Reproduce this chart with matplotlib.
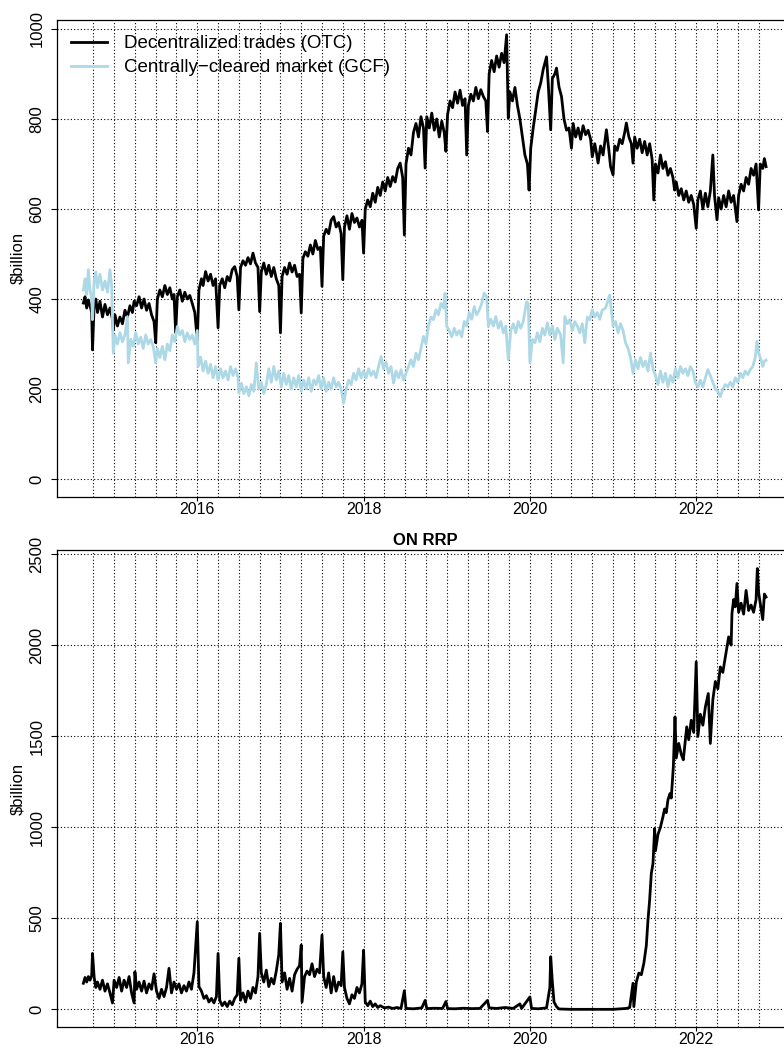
import numpy as np
import matplotlib
matplotlib.use("Agg")
import matplotlib.pyplot as plt

plt.rcParams['font.family'] = ['Liberation Sans', 'DejaVu Sans']

# =========================
# Data (decimal year, $billion)
# =========================
otc_t = [2014.63, 2014.65, 2014.67, 2014.69, 2014.71, 2014.73, 2014.74, 2014.76, 2014.78, 2014.80,
         2014.83, 2014.86, 2014.89, 2014.92, 2014.95, 2014.98, 2014.99, 2015.01, 2015.04, 2015.07,
         2015.10, 2015.13, 2015.16, 2015.19, 2015.22, 2015.24, 2015.27, 2015.30, 2015.33, 2015.36,
         2015.39, 2015.42, 2015.45, 2015.48, 2015.50, 2015.52, 2015.55, 2015.58, 2015.61, 2015.64,
         2015.67, 2015.70, 2015.72, 2015.74, 2015.76, 2015.79, 2015.82, 2015.85, 2015.88, 2015.91,
         2015.94, 2015.97, 2016.00, 2016.02, 2016.05, 2016.07, 2016.10, 2016.13, 2016.16, 2016.19,
         2016.22, 2016.25, 2016.27, 2016.30, 2016.33, 2016.36, 2016.39, 2016.42, 2016.45, 2016.48,
         2016.50, 2016.52, 2016.55, 2016.58, 2016.61, 2016.64, 2016.67, 2016.70, 2016.73, 2016.75,
         2016.77, 2016.80, 2016.83, 2016.86, 2016.89, 2016.92, 2016.95, 2016.98, 2017.00, 2017.02,
         2017.05, 2017.08, 2017.11, 2017.14, 2017.17, 2017.20, 2017.23, 2017.25, 2017.27, 2017.30,
         2017.33, 2017.36, 2017.39, 2017.42, 2017.45, 2017.48, 2017.50, 2017.52, 2017.55, 2017.58,
         2017.61, 2017.64, 2017.67, 2017.70, 2017.73, 2017.75, 2017.77, 2017.80, 2017.83, 2017.86,
         2017.89, 2017.92, 2017.95, 2017.98, 2018.00, 2018.02, 2018.05, 2018.08, 2018.11, 2018.14,
         2018.17, 2018.20, 2018.23, 2018.26, 2018.29, 2018.32, 2018.35, 2018.38, 2018.41, 2018.44,
         2018.47, 2018.49, 2018.51, 2018.54, 2018.57, 2018.60, 2018.63, 2018.66, 2018.69, 2018.72,
         2018.74, 2018.76, 2018.79, 2018.82, 2018.85, 2018.88, 2018.91, 2018.94, 2018.97, 2018.99,
         2019.01, 2019.04, 2019.07, 2019.10, 2019.13, 2019.16, 2019.19, 2019.22, 2019.24, 2019.26,
         2019.29, 2019.32, 2019.35, 2019.38, 2019.41, 2019.44, 2019.47, 2019.49, 2019.51, 2019.54,
         2019.57, 2019.60, 2019.63, 2019.66, 2019.69, 2019.72, 2019.74, 2019.76, 2019.79, 2019.82,
         2019.85, 2019.88, 2019.91, 2019.94, 2019.97, 2019.99, 2020.01, 2020.04, 2020.07, 2020.10,
         2020.13, 2020.16, 2020.20, 2020.22, 2020.25, 2020.27, 2020.30, 2020.32, 2020.35, 2020.38,
         2020.41, 2020.44, 2020.47, 2020.50, 2020.52, 2020.55, 2020.58, 2020.61, 2020.64, 2020.67,
         2020.70, 2020.73, 2020.75, 2020.78, 2020.80, 2020.82, 2020.85, 2020.88, 2020.92, 2020.95,
         2020.97, 2021.00, 2021.02, 2021.05, 2021.08, 2021.11, 2021.14, 2021.16, 2021.19, 2021.22,
         2021.24, 2021.26, 2021.29, 2021.32, 2021.35, 2021.38, 2021.41, 2021.44, 2021.47, 2021.49,
         2021.51, 2021.54, 2021.57, 2021.60, 2021.63, 2021.66, 2021.69, 2021.72, 2021.74, 2021.76,
         2021.79, 2021.82, 2021.85, 2021.88, 2021.91, 2021.94, 2021.97, 2022.00, 2022.02, 2022.05,
         2022.08, 2022.11, 2022.14, 2022.17, 2022.20, 2022.22, 2022.25, 2022.27, 2022.30, 2022.33,
         2022.36, 2022.39, 2022.42, 2022.45, 2022.49, 2022.51, 2022.54, 2022.57, 2022.60, 2022.63,
         2022.66, 2022.69, 2022.72, 2022.75, 2022.77, 2022.80, 2022.82, 2022.84]
otc_v = [391, 405, 380, 398, 385, 370, 287, 390, 400, 370,
         395, 360, 388, 365, 380, 355, 331, 365, 340, 360,
         345, 375, 360, 385, 370, 395, 385, 405, 380, 400,
         375, 390, 365, 350, 303, 400, 420, 405, 430, 410,
         425, 400, 410, 325, 405, 420, 395, 415, 400, 408,
         390, 370, 309, 420, 445, 430, 461, 440, 455, 430,
         445, 336, 430, 445, 425, 450, 440, 465, 472, 450,
         376, 470, 485, 475, 492, 478, 502, 480, 470, 372,
         460, 480, 455, 475, 450, 470, 445, 430, 325, 450,
         470, 455, 480, 460, 475, 450, 455, 369, 490, 505,
         495, 520, 500, 530, 510, 515, 428, 540, 555, 545,
         575, 583, 560, 570, 545, 443, 560, 585, 555, 590,
         570, 580, 560, 575, 502, 600, 620, 605, 635, 615,
         648, 630, 660, 640, 670, 650, 672, 660, 690, 702,
         670, 542, 700, 735, 720, 770, 790, 760, 805, 780,
         691, 805, 780, 813, 775, 800, 760, 795, 770, 728,
         810, 840, 825, 860, 835, 864, 830, 845, 720, 830,
         855, 840, 870, 845, 865, 850, 840, 772, 900, 930,
         905, 940, 915, 946, 925, 987, 802, 860, 840, 870,
         830, 800, 760, 720, 700, 642, 735, 780, 820, 860,
         880, 910, 938, 880, 776, 890, 900, 913, 871, 850,
         800, 775, 780, 735, 790, 760, 780, 755, 785, 765,
         775, 755, 716, 745, 725, 702, 740, 720, 776, 730,
         694, 676, 740, 730, 755, 745, 770, 791, 760, 745,
         702, 760, 735, 755, 725, 750, 720, 745, 710, 620,
         700, 680, 720, 690, 705, 675, 690, 670, 642, 660,
         630, 645, 620, 640, 615, 630, 610, 557, 620, 640,
         600, 635, 605, 640, 720, 630, 576, 625, 600, 630,
         605, 640, 615, 630, 572, 630, 655, 640, 670, 655,
         690, 675, 700, 598, 700, 690, 712, 694]

gcf_t = [2014.63, 2014.65, 2014.67, 2014.69, 2014.71, 2014.73, 2014.74, 2014.76, 2014.78, 2014.80,
         2014.83, 2014.86, 2014.89, 2014.92, 2014.95, 2014.97, 2014.99, 2015.01, 2015.04, 2015.07,
         2015.10, 2015.13, 2015.16, 2015.17, 2015.20, 2015.23, 2015.26, 2015.29, 2015.32, 2015.35,
         2015.38, 2015.41, 2015.44, 2015.47, 2015.50, 2015.52, 2015.55, 2015.58, 2015.61, 2015.64,
         2015.67, 2015.70, 2015.73, 2015.76, 2015.79, 2015.82, 2015.85, 2015.88, 2015.91, 2015.94,
         2015.97, 2016.00, 2016.01, 2016.04, 2016.07, 2016.10, 2016.13, 2016.16, 2016.19, 2016.22,
         2016.25, 2016.28, 2016.31, 2016.34, 2016.37, 2016.40, 2016.43, 2016.46, 2016.49, 2016.50,
         2016.53, 2016.56, 2016.59, 2016.62, 2016.65, 2016.68, 2016.71, 2016.74, 2016.77, 2016.80,
         2016.83, 2016.86, 2016.89, 2016.92, 2016.95, 2016.98, 2017.01, 2017.04, 2017.07, 2017.10,
         2017.13, 2017.16, 2017.19, 2017.22, 2017.25, 2017.28, 2017.31, 2017.34, 2017.37, 2017.40,
         2017.43, 2017.46, 2017.49, 2017.52, 2017.55, 2017.58, 2017.61, 2017.64, 2017.67, 2017.70,
         2017.73, 2017.76, 2017.79, 2017.82, 2017.85, 2017.88, 2017.91, 2017.94, 2017.97, 2018.00,
         2018.03, 2018.06, 2018.09, 2018.12, 2018.15, 2018.18, 2018.21, 2018.24, 2018.27, 2018.30,
         2018.33, 2018.36, 2018.39, 2018.42, 2018.45, 2018.48, 2018.51, 2018.54, 2018.57, 2018.60,
         2018.63, 2018.66, 2018.69, 2018.72, 2018.75, 2018.78, 2018.81, 2018.84, 2018.87, 2018.90,
         2018.93, 2018.96, 2018.98, 2019.00, 2019.03, 2019.06, 2019.09, 2019.12, 2019.15, 2019.18,
         2019.21, 2019.24, 2019.27, 2019.30, 2019.33, 2019.36, 2019.39, 2019.42, 2019.45, 2019.48,
         2019.50, 2019.53, 2019.56, 2019.59, 2019.62, 2019.65, 2019.68, 2019.71, 2019.74, 2019.77,
         2019.80, 2019.83, 2019.86, 2019.89, 2019.92, 2019.96, 2019.98, 2020.00, 2020.03, 2020.06,
         2020.09, 2020.12, 2020.15, 2020.18, 2020.21, 2020.24, 2020.27, 2020.30, 2020.33, 2020.37,
         2020.40, 2020.42, 2020.45, 2020.48, 2020.51, 2020.54, 2020.57, 2020.60, 2020.63, 2020.66,
         2020.69, 2020.72, 2020.75, 2020.78, 2020.81, 2020.84, 2020.87, 2020.91, 2020.96, 2020.98,
         2021.00, 2021.03, 2021.06, 2021.09, 2021.12, 2021.15, 2021.18, 2021.21, 2021.24, 2021.27,
         2021.30, 2021.33, 2021.36, 2021.39, 2021.42, 2021.45, 2021.48, 2021.51, 2021.54, 2021.57,
         2021.60, 2021.63, 2021.66, 2021.69, 2021.72, 2021.75, 2021.78, 2021.81, 2021.84, 2021.87,
         2021.90, 2021.93, 2021.96, 2021.99, 2022.02, 2022.05, 2022.08, 2022.11, 2022.14, 2022.17,
         2022.20, 2022.23, 2022.26, 2022.29, 2022.32, 2022.35, 2022.38, 2022.41, 2022.44, 2022.47,
         2022.50, 2022.53, 2022.56, 2022.59, 2022.62, 2022.65, 2022.68, 2022.71, 2022.73, 2022.75,
         2022.78, 2022.80, 2022.82, 2022.84]
gcf_v = [420, 445, 410, 465, 420, 400, 354, 440, 460, 425,
         455, 420, 440, 415, 465, 430, 280, 320, 300, 325,
         305, 320, 361, 258, 310, 295, 325, 300, 315, 290,
         320, 300, 310, 295, 258, 290, 270, 295, 265, 300,
         285, 320, 305, 339, 320, 330, 305, 325, 310, 320,
         300, 330, 250, 271, 240, 262, 235, 255, 225, 250,
         220, 245, 225, 240, 220, 250, 230, 245, 225, 191,
         213, 190, 205, 185, 210, 195, 258, 200, 215, 190,
         210, 245, 215, 250, 220, 240, 205, 235, 210, 230,
         200, 225, 205, 230, 195, 220, 200, 225, 195, 220,
         210, 230, 200, 225, 195, 215, 200, 225, 205, 215,
         200, 169, 200, 220, 210, 235, 220, 245, 225, 240,
         225, 245, 230, 240, 225, 250, 272, 245, 260, 235,
         250, 213, 240, 225, 243, 220, 235, 250, 265, 250,
         280, 265, 290, 317, 300, 340, 360, 354, 376, 365,
         390, 380, 413, 339, 330, 316, 335, 320, 330, 316,
         350, 340, 370, 355, 383, 365, 375, 390, 413, 405,
         339, 355, 340, 361, 335, 350, 325, 340, 265, 330,
         345, 325, 350, 335, 350, 394, 390, 258, 310, 303,
         325, 305, 335, 320, 347, 320, 340, 310, 335, 320,
         258, 361, 345, 354, 330, 350, 340, 325, 345, 303,
         360, 354, 376, 360, 370, 355, 375, 380, 409, 375,
         340, 350, 325, 345, 330, 303, 290, 270, 235, 265,
         245, 270, 250, 262, 240, 280, 245, 230, 210, 240,
         215, 235, 205, 230, 215, 245, 225, 250, 235, 245,
         230, 250, 240, 215, 205, 220, 205, 225, 243, 230,
         215, 200, 195, 183, 200, 210, 205, 215, 205, 225,
         215, 235, 225, 240, 232, 243, 250, 270, 306, 280,
         265, 250, 262, 264]

rrp_t = [2014.63, 2014.65, 2014.67, 2014.69, 2014.71, 2014.73, 2014.74, 2014.76, 2014.78, 2014.80,
         2014.83, 2014.86, 2014.89, 2014.92, 2014.95, 2014.98, 2015.00, 2015.03, 2015.06, 2015.09,
         2015.12, 2015.15, 2015.18, 2015.21, 2015.24, 2015.25, 2015.27, 2015.30, 2015.33, 2015.36,
         2015.39, 2015.42, 2015.45, 2015.48, 2015.51, 2015.54, 2015.57, 2015.60, 2015.63, 2015.66,
         2015.69, 2015.72, 2015.75, 2015.78, 2015.81, 2015.84, 2015.87, 2015.90, 2015.93, 2015.96,
         2016.00, 2016.02, 2016.05, 2016.08, 2016.11, 2016.14, 2016.17, 2016.20, 2016.23, 2016.25,
         2016.27, 2016.30, 2016.33, 2016.36, 2016.39, 2016.42, 2016.45, 2016.48, 2016.50, 2016.52,
         2016.55, 2016.58, 2016.61, 2016.64, 2016.67, 2016.70, 2016.73, 2016.75, 2016.77, 2016.80,
         2016.83, 2016.86, 2016.89, 2016.92, 2016.95, 2016.98, 2017.00, 2017.02, 2017.05, 2017.08,
         2017.11, 2017.14, 2017.17, 2017.20, 2017.23, 2017.25, 2017.26, 2017.29, 2017.32, 2017.35,
         2017.38, 2017.41, 2017.44, 2017.47, 2017.50, 2017.52, 2017.55, 2017.58, 2017.61, 2017.64,
         2017.67, 2017.70, 2017.73, 2017.75, 2017.77, 2017.80, 2017.83, 2017.86, 2017.89, 2017.92,
         2017.95, 2017.98, 2018.00, 2018.02, 2018.05, 2018.08, 2018.11, 2018.14, 2018.17, 2018.20,
         2018.25, 2018.30, 2018.35, 2018.40, 2018.45, 2018.49, 2018.51, 2018.60, 2018.70, 2018.74,
         2018.76, 2018.85, 2018.95, 2018.99, 2019.01, 2019.10, 2019.20, 2019.30, 2019.40, 2019.49,
         2019.51, 2019.60, 2019.70, 2019.80, 2019.88, 2019.90, 2020.00, 2020.02, 2020.10, 2020.20,
         2020.24, 2020.25, 2020.27, 2020.29, 2020.32, 2020.35, 2020.50, 2020.75, 2021.00, 2021.16,
         2021.20, 2021.24, 2021.25, 2021.28, 2021.31, 2021.34, 2021.37, 2021.40, 2021.42, 2021.44,
         2021.46, 2021.48, 2021.50, 2021.51, 2021.54, 2021.57, 2021.60, 2021.62, 2021.64, 2021.66,
         2021.685, 2021.70, 2021.725, 2021.745, 2021.76, 2021.79, 2021.82, 2021.845, 2021.87, 2021.886,
         2021.91, 2021.94, 2021.97, 2022.00, 2022.02, 2022.05, 2022.08, 2022.11, 2022.145, 2022.17,
         2022.20, 2022.23, 2022.26, 2022.29, 2022.32, 2022.35, 2022.39, 2022.42, 2022.43, 2022.45,
         2022.47, 2022.49, 2022.51, 2022.54, 2022.57, 2022.60, 2022.63, 2022.66, 2022.69, 2022.72,
         2022.735, 2022.75, 2022.78, 2022.80, 2022.82, 2022.84]
rrp_v = [143, 175, 150, 180, 160, 185, 307, 175, 120, 150,
         110, 160, 100, 140, 90, 35, 160, 120, 175, 100,
         160, 120, 180, 90, 35, 206, 110, 150, 100, 155,
         90, 140, 110, 195, 100, 60, 110, 70, 120, 225,
         90, 150, 110, 140, 90, 130, 100, 150, 110, 200,
         481, 125, 100, 60, 75, 40, 60, 35, 70, 307,
         50, 20, 40, 15, 45, 25, 60, 80, 280, 50,
         90, 40, 100, 60, 120, 90, 180, 417, 200, 150,
         215, 125, 170, 140, 210, 300, 472, 150, 200, 110,
         170, 100, 190, 220, 240, 353, 40, 180, 210, 190,
         250, 180, 220, 200, 408, 180, 120, 200, 90, 180,
         100, 150, 130, 316, 120, 60, 30, 80, 60, 120,
         90, 140, 325, 40, 20, 45, 15, 30, 10, 20,
         8, 12, 5, 10, 5, 102, 5, 3, 8, 49,
         4, 6, 5, 43, 4, 3, 6, 4, 5, 49,
         8, 5, 10, 5, 30, 5, 68, 5, 3, 8,
         120, 289, 150, 40, 15, 2, 0, 0, 0, 5,
         10, 143, 15, 150, 199, 190, 252, 350, 490, 600,
         746, 800, 993, 870, 960, 1000, 1057, 1100, 1080, 1150,
         1185, 1160, 1332, 1606, 1380, 1460, 1400, 1370, 1478, 1551,
         1480, 1587, 1520, 1908, 1498, 1620, 1560, 1660, 1734, 1460,
         1700, 1800, 1760, 1880, 1850, 1935, 2045, 2000, 2173, 2250,
         2210, 2338, 2180, 2230, 2170, 2300, 2190, 2220, 2180, 2250,
         2420, 2290, 2200, 2140, 2280, 2264]

year_ticks = [2016, 2018, 2020, 2022]
quarter_lines = [2014.75 + 0.25 * i for i in range(33)]
top_yticks = [0, 200, 400, 600, 800, 1000]
bot_yticks = [0, 500, 1000, 1500, 2000, 2500]

# =========================
# Figure
# =========================
W, H = 784, 1048
fig = plt.figure(figsize=(W / 100, H / 100), dpi=100)

# axes run past the right edge, like the cropped original
ax1 = fig.add_axes([57 / W, 1 - 496.7 / H, 736.5 / W, 476.4 / H])
ax2 = fig.add_axes([57 / W, 1 - 1027 / H, 736.5 / W, 477 / H])

grid_kw = dict(color='black', lw=0.8, linestyle=(0, (1, 2)), zorder=1)


def style_axes(ax, yticks, ylim):
    ax.set_xlim(2014.313, 2023.17)
    ax.set_ylim(*ylim)
    for q in quarter_lines:
        ax.axvline(q, **grid_kw)
    for yt in yticks:
        ax.axhline(yt, **grid_kw)
    ax.set_xticks(year_ticks)
    ax.set_xticklabels([str(y) for y in year_ticks])
    ax.set_yticks(yticks)
    ax.set_yticklabels([str(y) for y in yticks], rotation=90, va='center')
    ax.tick_params(axis='both', direction='out', width=0.8, colors='black')
    ax.tick_params(axis='x', length=3, pad=0.5, labelsize=11.5)
    ax.tick_params(axis='y', length=4, pad=5, labelsize=12)
    for s in ax.spines.values():
        s.set_linewidth(0.9)
        s.set_color('black')


style_axes(ax1, top_yticks, (-39.2, 1019.2))
style_axes(ax2, bot_yticks, (-97, 2522))

ax1.plot(otc_t, otc_v, color='black', lw=2.0, zorder=3,
         label='Decentralized trades (OTC)')
ax1.plot(gcf_t, gcf_v, color='lightblue', lw=2.0, zorder=3,
         label='Centrally\u2212cleared market (GCF)')
ax2.plot(rrp_t, rrp_v, color='black', lw=2.0, zorder=3)

leg = ax1.legend(loc='upper left', bbox_to_anchor=(14 / 736.5, 1 - 15 / 476.4),
                 frameon=False, fontsize=13.5, handlelength=1.9,
                 handletextpad=0.9, labelspacing=0.35, borderaxespad=0,
                 borderpad=0)

fig.text(18 / W, 1 - 258 / H, '$billion', rotation=90, ha='center', va='center', fontsize=12)
fig.text(18 / W, 1 - 789 / H, '$billion', rotation=90, ha='center', va='center', fontsize=12)

ax2.text(0.5, 1 + 9.5 / 477, 'ON RRP', transform=ax2.transAxes, ha='center',
         va='center', fontsize=12, fontweight='bold')

fig.savefig('out.png', dpi=100)
